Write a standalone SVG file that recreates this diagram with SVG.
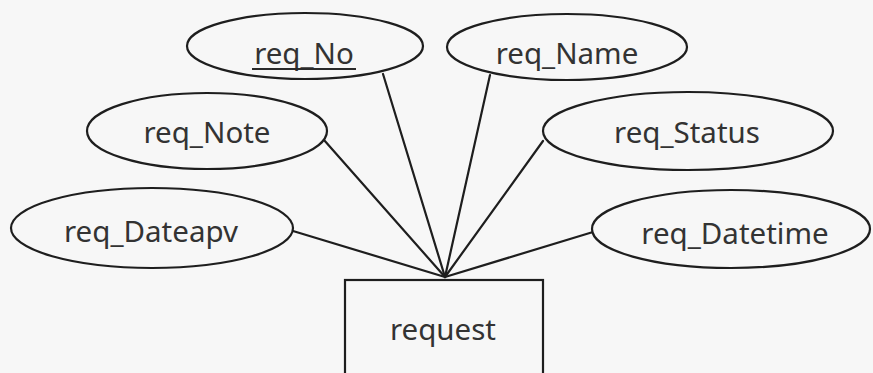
<svg xmlns="http://www.w3.org/2000/svg" width="873" height="373" viewBox="0 0 873 373">
<style>
.shape{fill:#f7f7f7;stroke:#1e1e1e;stroke-width:2.2}
.conn line{stroke:#1e1e1e;stroke-width:2.2;stroke-linecap:round}
text{font-family:"Noto Sans","Open Sans",sans-serif;font-size:29.5px;fill:#333;text-anchor:middle}
</style>
<rect width="873" height="373" fill="#f7f7f7"/>
<g id="connectors" class="conn">
<line x1="383" y1="74" x2="445" y2="277"/>
<line x1="490" y1="75" x2="445" y2="277"/>
<line x1="324" y1="140" x2="445" y2="277"/>
<line x1="543" y1="141" x2="445" y2="277"/>
<line x1="293" y1="231" x2="445" y2="277"/>
<line x1="593" y1="232" x2="445" y2="277"/>
</g>
<g id="req_No">
<ellipse class="shape" cx="305" cy="46" rx="118" ry="33"/>
<text x="304" y="64">req_No</text>
<line x1="252" y1="69" x2="356" y2="69" stroke="#2a2a2a" stroke-width="2"/>
</g>
<g id="req_Name">
<ellipse class="shape" cx="567" cy="47" rx="120" ry="33"/>
<text x="567" y="64">req_Name</text>
</g>
<g id="req_Note">
<ellipse class="shape" cx="207" cy="131" rx="120" ry="38"/>
<text x="207" y="143">req_Note</text>
</g>
<g id="req_Status">
<ellipse class="shape" cx="688" cy="131" rx="145" ry="39"/>
<text x="687" y="143">req_Status</text>
</g>
<g id="req_Dateapv">
<ellipse class="shape" cx="152" cy="228" rx="141" ry="40"/>
<text x="151" y="242">req_Dateapv</text>
</g>
<g id="req_Datetime">
<ellipse class="shape" cx="731" cy="229" rx="139" ry="39"/>
<text x="735" y="244">req_Datetime</text>
</g>
<g id="request">
<rect class="shape" x="345" y="280" width="198" height="110"/>
<text x="443" y="340">request</text>
</g>
</svg>
